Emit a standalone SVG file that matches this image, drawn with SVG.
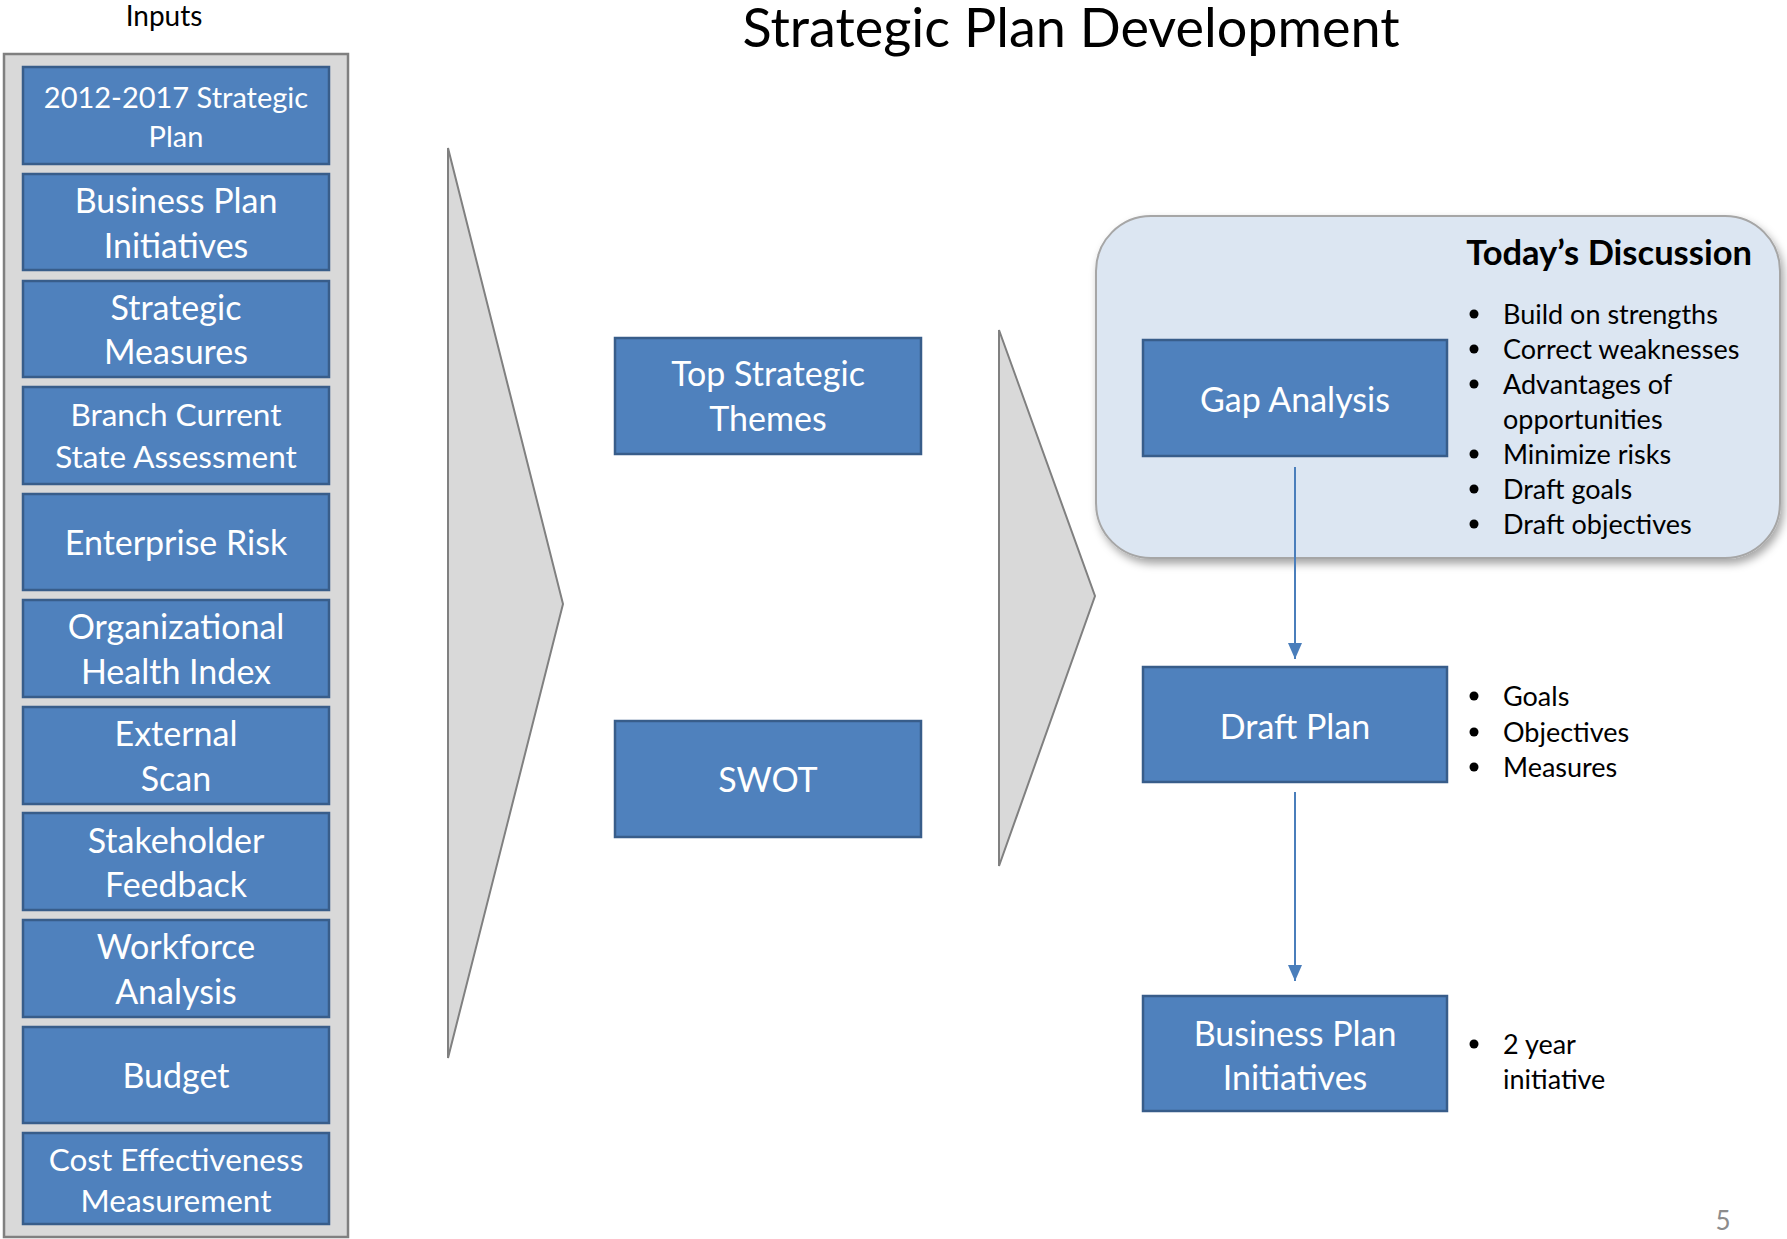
<svg xmlns="http://www.w3.org/2000/svg" width="1787" height="1239" viewBox="0 0 1787 1239">
<style>
  text { font-family: Lato, "Liberation Sans", sans-serif; }
  .box { fill: #4f81bd; stroke: #385d8a; stroke-width: 2.5; }
  .bt { fill: #ffffff; font-size: 34px; text-anchor: middle; }
  .bt2 { fill: #ffffff; font-size: 31.5px; text-anchor: middle; }
  .bt3 { fill: #ffffff; font-size: 29px; text-anchor: middle; }
  .tri { fill: #d9d9d9; stroke: #808080; stroke-width: 2; }
  .bul { fill: #000000; font-size: 27px; }
  .dot { fill: #000000; }
  .conn { stroke: #4a7ebb; stroke-width: 2; fill: none; }
</style>
<defs>
  <marker id="arr" markerUnits="userSpaceOnUse" markerWidth="16" markerHeight="14" refX="16" refY="7" orient="auto">
    <path d="M0,0 L16,7 L0,14 z" fill="#4a7ebb"/>
  </marker>
  <filter id="sh" x="-10%" y="-10%" width="125%" height="130%">
    <feDropShadow dx="3" dy="5" stdDeviation="4" flood-color="#000000" flood-opacity="0.35"/>
  </filter>
</defs>
<rect width="1787" height="1239" fill="#ffffff"/>

<text x="1071" y="47" font-size="54" text-anchor="middle" fill="#000000">Strategic Plan Development</text>
<text x="164" y="26" font-size="28" text-anchor="middle" fill="#000000">Inputs</text>

<g id="inputs-panel">
  <rect x="4" y="54" width="344" height="1183" fill="#d9d9d9" stroke="#808080" stroke-width="2.5"/>
</g>

<g id="in-strategic-plan">
  <rect class="box" x="23" y="67" width="306" height="97"/>
  <text class="bt3" x="176" y="108">2012-2017 Strategic</text>
  <text class="bt3" x="176" y="147">Plan</text>
</g>
<g id="in-business-plan">
  <rect class="box" x="23" y="174" width="306" height="96"/>
  <text class="bt" x="176" y="213">Business Plan</text>
  <text class="bt" x="176" y="258">Initiatives</text>
</g>
<g id="in-strategic-measures">
  <rect class="box" x="23" y="281" width="306" height="96"/>
  <text class="bt" x="176" y="320">Strategic</text>
  <text class="bt" x="176" y="364">Measures</text>
</g>
<g id="in-branch">
  <rect class="box" x="23" y="387" width="306" height="97"/>
  <text class="bt2" x="176" y="426">Branch Current</text>
  <text class="bt2" x="176" y="468">State Assessment</text>
</g>
<g id="in-enterprise-risk">
  <rect class="box" x="23" y="494" width="306" height="96"/>
  <text class="bt" x="176" y="555">Enterprise Risk</text>
</g>
<g id="in-ohi">
  <rect class="box" x="23" y="600" width="306" height="97"/>
  <text class="bt" x="176" y="639">Organizational</text>
  <text class="bt" x="176" y="684">Health Index</text>
</g>
<g id="in-external-scan">
  <rect class="box" x="23" y="707" width="306" height="97"/>
  <text class="bt" x="176" y="746">External</text>
  <text class="bt" x="176" y="791">Scan</text>
</g>
<g id="in-stakeholder">
  <rect class="box" x="23" y="813" width="306" height="97"/>
  <text class="bt" x="176" y="853">Stakeholder</text>
  <text class="bt" x="176" y="897">Feedback</text>
</g>
<g id="in-workforce">
  <rect class="box" x="23" y="920" width="306" height="97"/>
  <text class="bt" x="176" y="959">Workforce</text>
  <text class="bt" x="176" y="1004">Analysis</text>
</g>
<g id="in-budget">
  <rect class="box" x="23" y="1027" width="306" height="96"/>
  <text class="bt" x="176" y="1088">Budget</text>
</g>
<g id="in-cost">
  <rect class="box" x="23" y="1133" width="306" height="91"/>
  <text class="bt2" x="176" y="1171">Cost Effectiveness</text>
  <text class="bt2" x="176" y="1212">Measurement</text>
</g>

<g id="chevron-1">
  <polygon class="tri" points="448,148 563,604 448,1058"/>
</g>
<g id="chevron-2">
  <polygon class="tri" points="999,330 1095,596 999,866"/>
</g>

<g id="top-strategic-themes">
  <rect class="box" x="615" y="338" width="306" height="116"/>
  <text class="bt" x="768" y="386">Top Strategic</text>
  <text class="bt" x="768" y="431">Themes</text>
</g>
<g id="swot">
  <rect class="box" x="615" y="721" width="306" height="116"/>
  <text class="bt" x="768" y="792">SWOT</text>
</g>

<g id="todays-discussion">
  <rect x="1096" y="216" width="684" height="342" rx="55" ry="55" fill="#dce6f2" stroke="#a6a6a6" stroke-width="2" filter="url(#sh)"/>
  <text x="1752" y="265" font-size="34.5" font-weight="bold" text-anchor="end" fill="#000000">Today’s Discussion</text>
  <g class="dot">
    <circle cx="1474" cy="314" r="4.5"/>
    <circle cx="1474" cy="349" r="4.5"/>
    <circle cx="1474" cy="384" r="4.5"/>
    <circle cx="1474" cy="454" r="4.5"/>
    <circle cx="1474" cy="489" r="4.5"/>
    <circle cx="1474" cy="524" r="4.5"/>
  </g>
  <text class="bul" x="1503" y="323.5">Build on strengths</text>
  <text class="bul" x="1503" y="358.5">Correct weaknesses</text>
  <text class="bul" x="1503" y="393.5">Advantages of</text>
  <text class="bul" x="1503" y="428.5">opportunities</text>
  <text class="bul" x="1503" y="463.5">Minimize risks</text>
  <text class="bul" x="1503" y="498.5">Draft goals</text>
  <text class="bul" x="1503" y="533.5">Draft objectives</text>
</g>

<g id="gap-analysis">
  <rect class="box" x="1143" y="340" width="304" height="116"/>
  <text class="bt" x="1295" y="411.5">Gap Analysis</text>
</g>

<g id="draft-plan">
  <rect class="box" x="1143" y="667" width="304" height="115"/>
  <text class="bt" x="1295" y="738.5">Draft Plan</text>
  <g class="dot">
    <circle cx="1474" cy="696" r="4.5"/>
    <circle cx="1474" cy="732" r="4.5"/>
    <circle cx="1474" cy="767" r="4.5"/>
  </g>
  <text class="bul" x="1503" y="705.5">Goals</text>
  <text class="bul" x="1503" y="741.5">Objectives</text>
  <text class="bul" x="1503" y="776.5">Measures</text>
</g>

<g id="bpi">
  <rect class="box" x="1143" y="996" width="304" height="115"/>
  <text class="bt" x="1295" y="1045.5">Business Plan</text>
  <text class="bt" x="1295" y="1089.5">Initiatives</text>
  <circle class="dot" cx="1474" cy="1044" r="4.5"/>
  <text class="bul" x="1503" y="1053.5">2 year</text>
  <text class="bul" x="1503" y="1088.5">initiative</text>
</g>

<g id="connectors">
  <line class="conn" x1="1295" y1="467" x2="1295" y2="659" marker-end="url(#arr)"/>
  <line class="conn" x1="1295" y1="792" x2="1295" y2="981" marker-end="url(#arr)"/>
</g>

<text x="1723" y="1230" font-size="26" text-anchor="middle" fill="#8c8c8c">5</text>
</svg>
